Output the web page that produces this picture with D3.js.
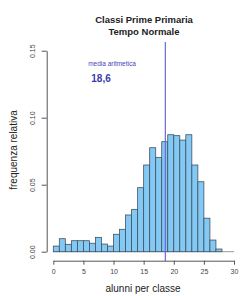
<!DOCTYPE html>
<html>
<head>
<meta charset="utf-8">
<script src="https://cdn.jsdelivr.net/npm/d3@7"></script>
<style>
  body { margin: 0; background: #fff; }
  text { font-family: "Liberation Sans", Arial, sans-serif; }
</style>
</head>
<body>
<div id="chart"></div>
<script>
// istogramma: alunni per classe (classi da 1 unita')
var binStart = [0,1,2,3,4,5,6,7,8,9,10,11,12,13,14,15,16,17,18,19,20,21,22,23,24,25,26,27];
var freq = [0.0042,0.0097,0.0055,0.0082,0.0082,0.0082,0.0063,0.0107,0.0057,0.0042,
            0.0130,0.0167,0.0274,0.0316,0.0478,0.0647,0.0776,0.0704,0.0821,0.0873,
            0.0866,0.0833,0.0873,0.0647,0.0522,0.0250,0.0087,0.0020];
var xTicks = [0,5,10,15,20,25,30];
var yTicks = [0,0.05,0.10,0.15];
var yTickLabels = ["0.00","0.05","0.10","0.15"];
var media = 18.6;
var mediaLabel = "18,6";
var titleLines = ["Classi Prime Primaria", "Tempo Normale"];

var width = 240, height = 296;

var svg = d3.select("#chart")
  .append("svg")
  .attr("width", width)
  .attr("height", height);

var x = d3.scaleLinear().domain([0, 30]).range([53.3, 234]);
var y = d3.scaleLinear().domain([0, 0.15]).range([251.7, 50.7]);

// titolo
svg.selectAll(".title")
  .data(titleLines)
  .enter()
  .append("text")
  .attr("x", 144)
  .attr("y", function (d, i) { return 23 + i * 12; })
  .attr("text-anchor", "middle")
  .attr("font-size", "9.5px")
  .attr("font-weight", "bold")
  .attr("fill", "#222")
  .text(function (d) { return d; });

// linea di base grigia
svg.append("line")
  .attr("x1", x(0)).attr("x2", x(30))
  .attr("y1", y(0)).attr("y2", y(0))
  .attr("stroke", "#999")
  .attr("stroke-width", 1);

// barre
svg.append("g")
  .selectAll("rect")
  .data(freq)
  .enter()
  .append("rect")
  .attr("x", function (d, i) { return x(binStart[i]); })
  .attr("y", function (d) { return y(d); })
  .attr("width", function (d, i) { return x(binStart[i] + 1) - x(binStart[i]); })
  .attr("height", function (d) { return y(0) - y(d); })
  .attr("fill", "#83c9f5")
  .attr("stroke", "#44505c")
  .attr("stroke-width", 0.8);

// media
svg.append("line")
  .attr("x1", x(media)).attr("x2", x(media))
  .attr("y1", 42).attr("y2", 261)
  .attr("stroke", "#6a6ad8")
  .attr("stroke-width", 1.2);

svg.append("text")
  .attr("x", 112)
  .attr("y", 66)
  .attr("text-anchor", "middle")
  .attr("font-size", "6.5px")
  .attr("fill", "#4444bb")
  .text("media aritmetica");

svg.append("text")
  .attr("x", 101)
  .attr("y", 82)
  .attr("text-anchor", "middle")
  .attr("font-size", "10px")
  .attr("font-weight", "bold")
  .attr("fill", "#3a3aaa")
  .text(mediaLabel);

// asse x
var xAxis = svg.append("g")
  .attr("transform", "translate(0,260.7)")
  .call(d3.axisBottom(x).tickValues(xTicks).tickSize(4).tickSizeOuter(0).tickPadding(4));
xAxis.select(".domain").attr("stroke", "#555");
xAxis.selectAll(".tick line").attr("stroke", "#555");
xAxis.selectAll(".tick text")
  .attr("font-size", "7px")
  .attr("fill", "#444")
  .attr("font-family", "Liberation Sans, Arial, sans-serif");

// asse y
var yAxis = svg.append("g")
  .attr("transform", "translate(46.7,0)")
  .call(d3.axisLeft(y).tickValues(yTicks).tickSize(5).tickSizeOuter(0)
    .tickFormat(function (d, i) { return yTickLabels[i]; }));
yAxis.select(".domain").attr("stroke", "#555");
yAxis.selectAll(".tick line").attr("stroke", "#555");
yAxis.selectAll(".tick text")
  .attr("font-size", "7px")
  .attr("fill", "#444")
  .attr("font-family", "Liberation Sans, Arial, sans-serif")
  .attr("text-anchor", "middle")
  .attr("x", null)
  .attr("dy", null)
  .attr("transform", "translate(-12,0) rotate(-90)");

// etichette assi
svg.append("text")
  .attr("x", 143)
  .attr("y", 292)
  .attr("text-anchor", "middle")
  .attr("font-size", "10px")
  .attr("fill", "#222")
  .text("alunni per classe");

svg.append("text")
  .attr("transform", "translate(17,150) rotate(-90)")
  .attr("text-anchor", "middle")
  .attr("font-size", "10px")
  .attr("fill", "#222")
  .text("frequenza relativa");
</script>
</body>
</html>
